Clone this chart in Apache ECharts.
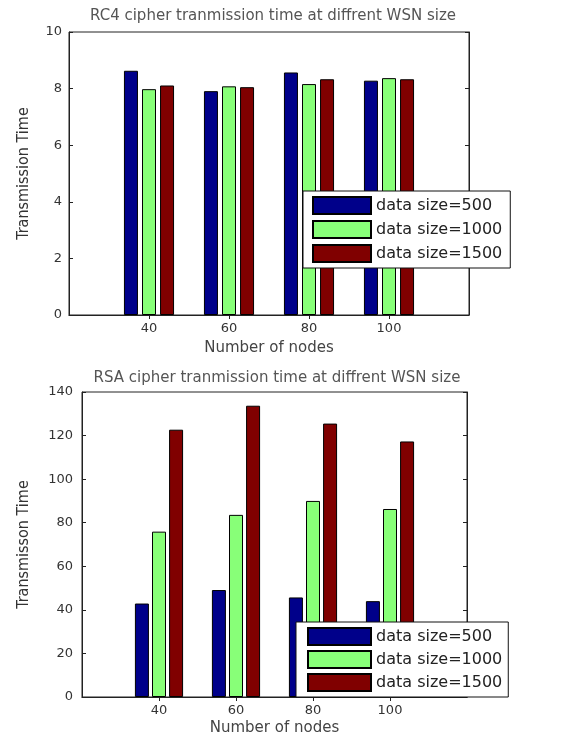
<!DOCTYPE html>
<html>
<head>
<meta charset="utf-8">
<script src="https://cdn.jsdelivr.net/npm/echarts@6.0.0/dist/echarts.min.js"></script>
<style>
  html, body { margin: 0; padding: 0; background: #fff; }
  #chart { width: 569px; height: 738px; }
</style>
</head>
<body>
<div id="chart"></div>
<script>
// Categories (empty slots at 20 and 120 pad the axis like the original)
const nodeLabels = ['', '40', '60', '80', '100', ''];
const seriesNames = ['data size=500', 'data size=1000', 'data size=1500'];
const barColors = ['#00008a', '#88ff78', '#800000'];

// RC4 transmission time
const rc4Size500 = [8.63, 7.91, 8.57, 8.28];
const rc4Size1000 = [7.98, 8.08, 8.16, 8.37];
const rc4Size1500 = [8.11, 8.05, 8.33, 8.33];

// RSA transmission time
const rsaSize500 = [42.9, 49.1, 45.7, 44.0];
const rsaSize1000 = [75.9, 83.6, 90.0, 86.3];
const rsaSize1500 = [122.7, 133.7, 125.5, 117.3];

const rc4Ticks = { min: 0, max: 10, interval: 2 };
const rsaTicks = { min: 0, max: 140, interval: 20 };

const FONT = 'DejaVu Sans';
const NARROW = "'DejaVu Sans Condensed', 'Liberation Sans Narrow', 'Liberation Sans'";

function padded(values) {
    return ['-', ...values, '-'];
}

function xAxes(gridIndex, nameGap) {
    return [
        {
            gridIndex,
            type: 'category',
            data: nodeLabels,
            boundaryGap: false,
            name: 'Number of nodes',
            nameLocation: 'middle',
            nameGap,
            nameTextStyle: { fontFamily: FONT, fontSize: 15, color: '#444' },
            axisLine: { lineStyle: { color: '#999' } },
            axisTick: { show: false },
            axisLabel: { fontFamily: FONT, fontSize: 13, color: '#333', margin: 7, interval: 0 },
            splitLine: { show: false }
        },
        {
            gridIndex,
            type: 'category',
            position: 'top',
            data: nodeLabels,
            boundaryGap: false,
            axisLine: { lineStyle: { color: '#222' } },
            axisTick: { inside: true, length: 4, lineStyle: { color: '#222' }, interval: (i) => i > 0 && i < 5 },
            axisLabel: { show: false },
            splitLine: { show: false }
        }
    ];
}

function yAxes(gridIndex, ticks, name, nameGap, labelMargin) {
    return [
        {
            gridIndex,
            type: 'value',
            ...ticks,
            name,
            nameLocation: 'middle',
            nameGap,
            nameTextStyle: { fontFamily: NARROW, fontSize: 16, color: '#333' },
            axisLine: { show: true, lineStyle: { color: '#222' } },
            axisTick: { show: true, inside: true, length: 4, lineStyle: { color: '#222' } },
            axisLabel: { fontFamily: FONT, fontSize: 13, color: '#333', margin: labelMargin },
            splitLine: { show: false }
        },
        {
            gridIndex,
            type: 'value',
            position: 'right',
            ...ticks,
            axisLine: { show: true, lineStyle: { color: '#222' } },
            axisTick: { show: true, inside: true, length: 4, lineStyle: { color: '#222' } },
            axisLabel: { show: false },
            splitLine: { show: false }
        }
    ];
}

function bars(axisIndex, valueSets, barWidth, barGap) {
    return valueSets.map((values, i) => ({
        type: 'bar',
        name: seriesNames[i],
        xAxisIndex: axisIndex,
        yAxisIndex: axisIndex,
        data: padded(values),
        barWidth,
        barGap,
        itemStyle: { color: barColors[i], borderColor: '#000', borderWidth: 1 },
        silent: true
    }));
}

function legend(left, top, itemWidth, itemGap, padding) {
    return {
        left, top,
        orient: 'vertical',
        icon: 'rect',
        itemWidth,
        itemHeight: 17,
        itemGap,
        padding,
        selectedMode: false,
        backgroundColor: '#fff',
        borderColor: '#111',
        borderWidth: 1,
        borderRadius: 0,
        data: seriesNames,
        textStyle: { fontFamily: FONT, fontSize: 16, color: '#222', padding: [0, 0, 0, 0] }
    };
}

const chart = echarts.init(document.getElementById('chart'));

chart.setOption({
    animation: false,
    title: [
        {
            text: 'RC4 cipher tranmission time at diffrent WSN size',
            left: 268, top: 4, textAlign: 'center',
            textStyle: { fontFamily: FONT, fontSize: 15, fontWeight: 'normal', color: '#555' }
        },
        {
            text: 'RSA cipher tranmission time at diffrent WSN size',
            left: 272, top: 366, textAlign: 'center',
            textStyle: { fontFamily: FONT, fontSize: 15, fontWeight: 'normal', color: '#555' }
        }
    ],
    grid: [
        { left: 69, top: 32, width: 400, height: 283, show: true, borderColor: '#222', borderWidth: 1 },
        { left: 82, top: 392, width: 385, height: 305, show: true, borderColor: '#222', borderWidth: 1 }
    ],
    xAxis: [...xAxes(0, 26), ...xAxes(1, 24)],
    yAxis: [
        ...yAxes(0, rc4Ticks, 'Transmission Time', 37, 7),
        ...yAxes(1, rsaTicks, 'Transmisson Time', 50, 9)
    ],
    legend: [
        legend(303, 191, 58, 5, [5, 8, 5, 9]),
        legend(296, 622, 63, 4, [5, 6, 5, 11])
    ],
    series: [
        ...bars(0, [rc4Size500, rc4Size1000, rc4Size1500], 14, '29%'),
        ...bars(2, [rsaSize500, rsaSize1000, rsaSize1500], 14, '22%')
    ]
});
</script>
</body>
</html>
